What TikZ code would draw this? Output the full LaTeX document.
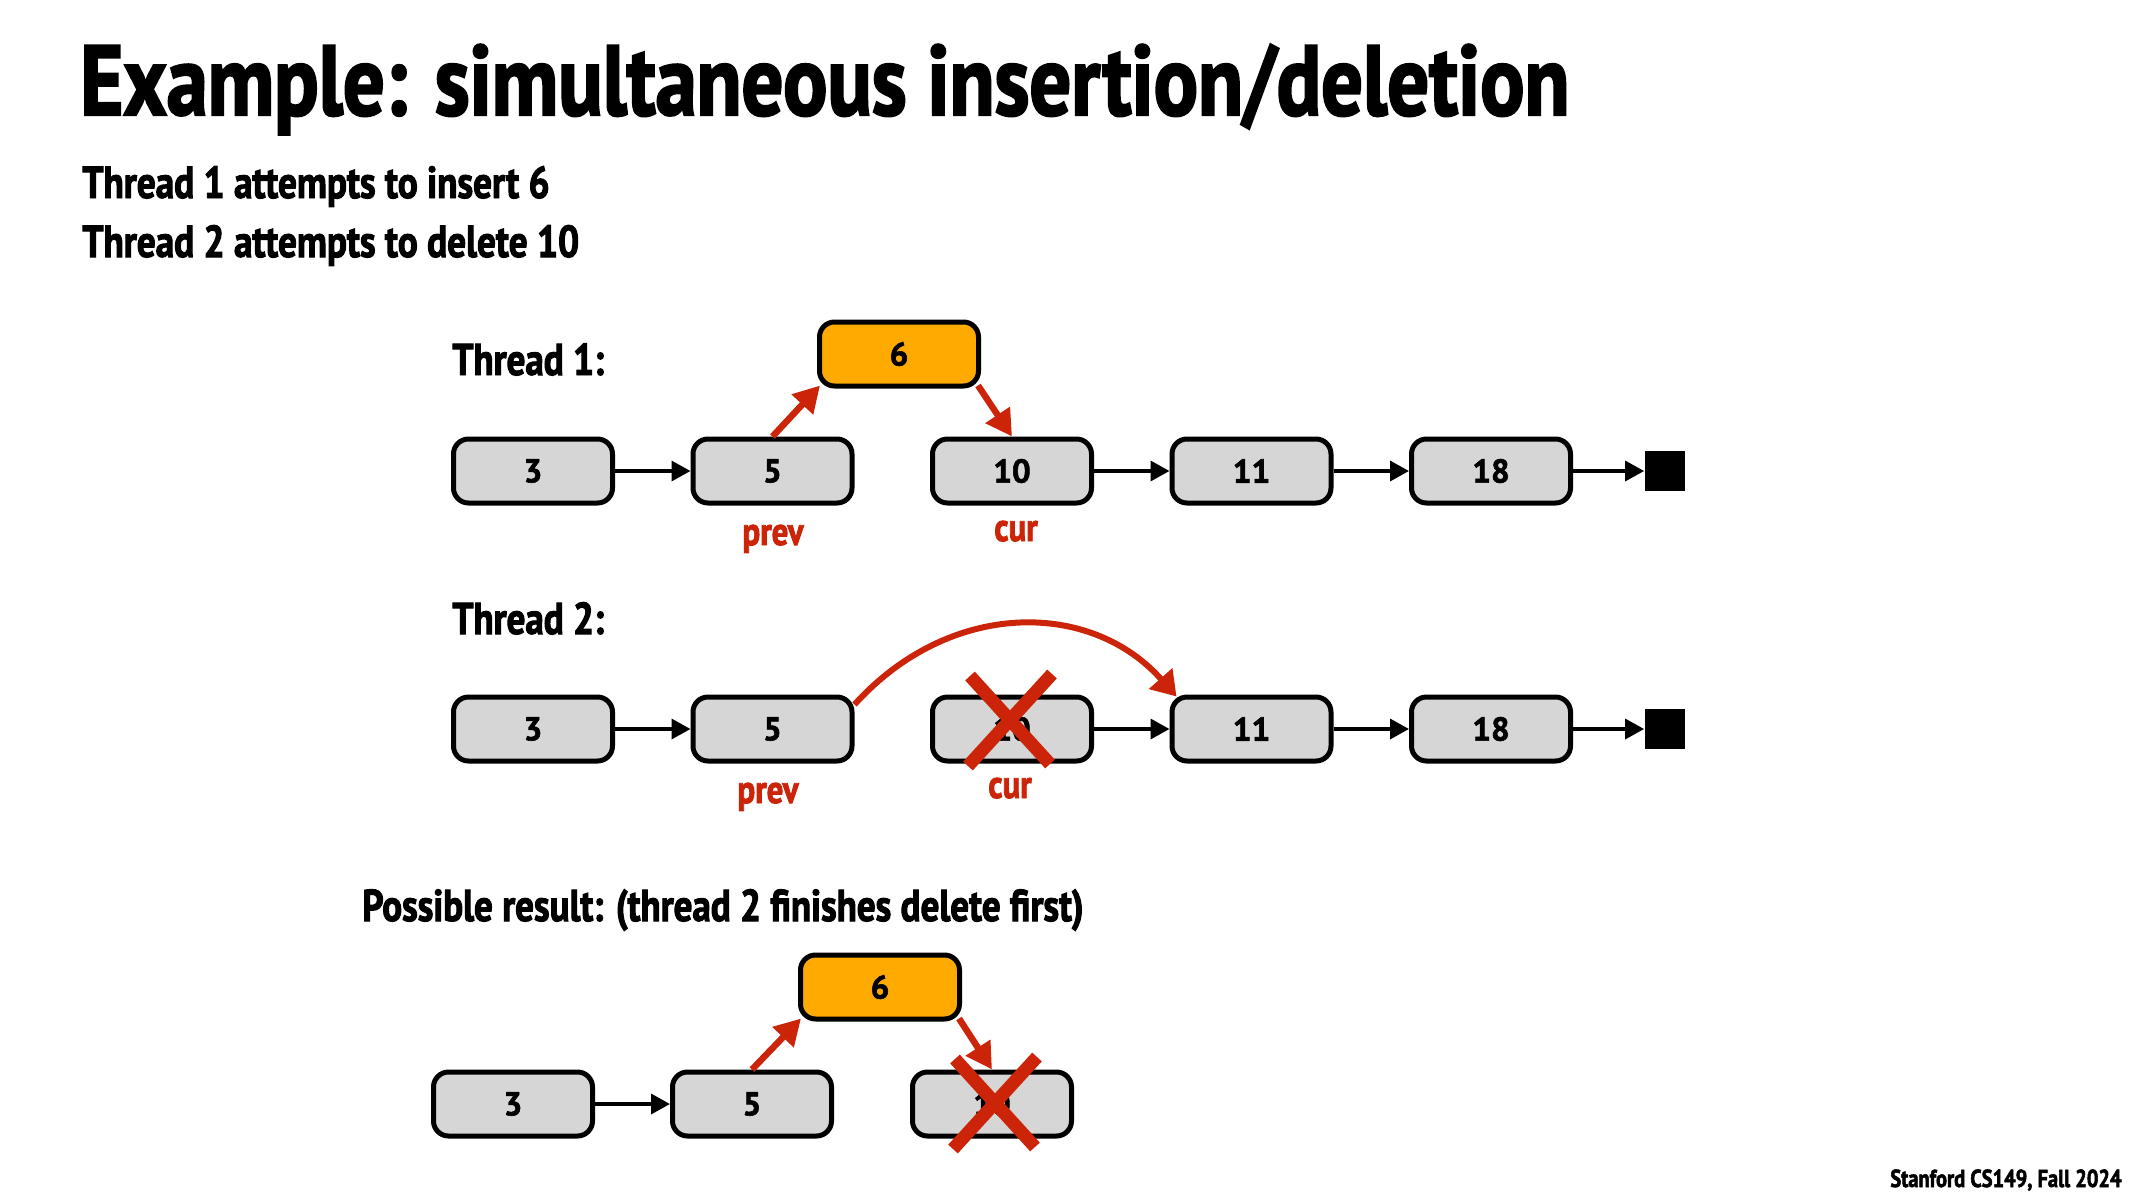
\documentclass[tikz,border=0pt]{standalone}
\usepackage{fontspec}
\setmainfont{PT Sans}[FakeStretch=0.83, BoldFeatures={FakeBold=2.2}]
\newfontfamily\numfont{PT Sans}[BoldFeatures={FakeBold=1.8}]
\usetikzlibrary{arrows.meta,calc}
\definecolor{nodegray}{RGB}{214,214,214}
\definecolor{insorange}{RGB}{255,170,0}
\definecolor{redc}{RGB}{204,36,8}
\begin{document}
\begin{tikzpicture}[x=0.5pt,y=-0.5pt,
  lnode/.style={draw=black, line width=2.5pt, fill=nodegray, rounded corners=7.5pt,
    minimum width=79.5pt, minimum height=32pt, inner sep=0pt,
    font=\numfont\fontsize{16.5}{16.5}\selectfont\bfseries},
  inode/.style={lnode, fill=insorange},
  endsq/.style={fill=black, minimum size=20pt, inner sep=0pt},
  link/.style={line width=1.75pt, -{Triangle[length=9.5pt,width=10pt]}},
  redlink/.style={draw=redc, line width=3.25pt, -{Triangle[length=13pt,width=14pt]}},
  xmark/.style={draw=redc, line width=6.5pt},
  lbl/.style={anchor=base west, inner sep=0pt, font=\fontsize{22.3}{22.3}\selectfont\bfseries},
  sublbl/.style={lbl, font=\fontsize{22.4}{22.4}\selectfont\bfseries},
  ptr/.style={anchor=base, inner sep=0pt, text=redc, font=\fontsize{19.7}{19.7}\selectfont\bfseries},
]
\useasboundingbox[fill=white] (0,0) rectangle (2133,1200);

% titles
\node[anchor=base west, inner sep=0pt, font=\fontsize{49.7}{49.7}\selectfont\bfseries] (title) at (80,115) {Example: simultaneous insertion/deletion};
\node[sublbl] (sub1) at (82,198) {Thread 1 attempts to insert 6};
\node[sublbl] (sub2) at (82,257) {Thread 2 attempts to delete 10};
\node[lbl] (t1lbl) at (452,375) {Thread 1:};
\node[lbl] (t2lbl) at (452,634) {Thread 2:};
\node[lbl] (reslbl) at (362,921) {Possible result: (thread 2 finishes delete first)};
\node[anchor=base east, inner sep=0pt, font=\fontsize{12.3}{12.3}\selectfont\bfseries] (footer) at (2122,1187) {Stanford CS149, Fall 2024};

% Thread 1
\node[lnode] (a1) at (533,471) {3};
\node[lnode] (a2) at (772.5,471) {5};
\node[lnode] (a3) at (1012,471) {10};
\node[lnode] (a4) at (1251.5,471) {11};
\node[lnode] (a5) at (1491,471) {18};
\node[endsq] (asq) at (1664.5,471) {};
\node[inode] (a6) at (899,354) {6};
\draw[link] (a1) -- (a2);
\draw[link] (a3) -- (a4);
\draw[link] (a4) -- (a5);
\draw[link] (a5) -- (asq);
\draw[redlink] (a2.north) -- ($(a6.south west)+(3,-3)$);
\draw[redlink] ($(a6.south east)+(-3,-3)$) -- (a3.north);
\node[ptr] (prev1) at (773,545) {prev};
\node[ptr] (cur1) at (1016,541) {cur};

% Thread 2
\node[lnode] (b1) at (533,729) {3};
\node[lnode] (b2) at (772.5,729) {5};
\node[lnode] (b3) at (1012,729) {10};
\node[lnode] (b4) at (1251.5,729) {11};
\node[lnode] (b5) at (1491,729) {18};
\node[endsq] (bsq) at (1664.5,729) {};
\draw[link] (b1) -- (b2);
\draw[link] (b3) -- (b4);
\draw[link] (b4) -- (b5);
\draw[link] (b5) -- (bsq);
\draw[redlink, line width=3pt, -{Triangle[length=12pt,width=15pt]}]
  ($(b2.north east)+(0,10)$) .. controls +(95,-105) and +(-86,-97) .. ($(b4.north west)+(7,2)$);
\coordinate (bx) at ($(b3.center)+(-2,-9)$);
\draw[xmark] ($(bx)+(-40,-44)$) -- ($(bx)+(40,44)$);
\draw[xmark] ($(bx)+(42,-46)$) -- ($(bx)+(-42,46)$);
\node[ptr] (prev2) at (768,803) {prev};
\node[ptr] (cur2) at (1010,798) {cur};

% Possible result
\node[lnode] (c1) at (513,1104) {3};
\node[lnode] (c2) at (752,1104) {5};
\node[lnode] (c3) at (992,1104) {10};
\node[inode] (c6) at (880,987) {6};
\draw[link] (c1) -- (c2);
\draw[redlink] (c2.north) -- ($(c6.south west)+(3,-3)$);
\draw[redlink] ($(c6.south east)+(-3,-3)$) -- (c3.north);
\coordinate (cx) at ($(c3.center)+(3,-1)$);
\draw[xmark] ($(cx)+(-40,-44)$) -- ($(cx)+(40,44)$);
\draw[xmark] ($(cx)+(42,-46)$) -- ($(cx)+(-42,46)$);
\end{tikzpicture}
\end{document}
